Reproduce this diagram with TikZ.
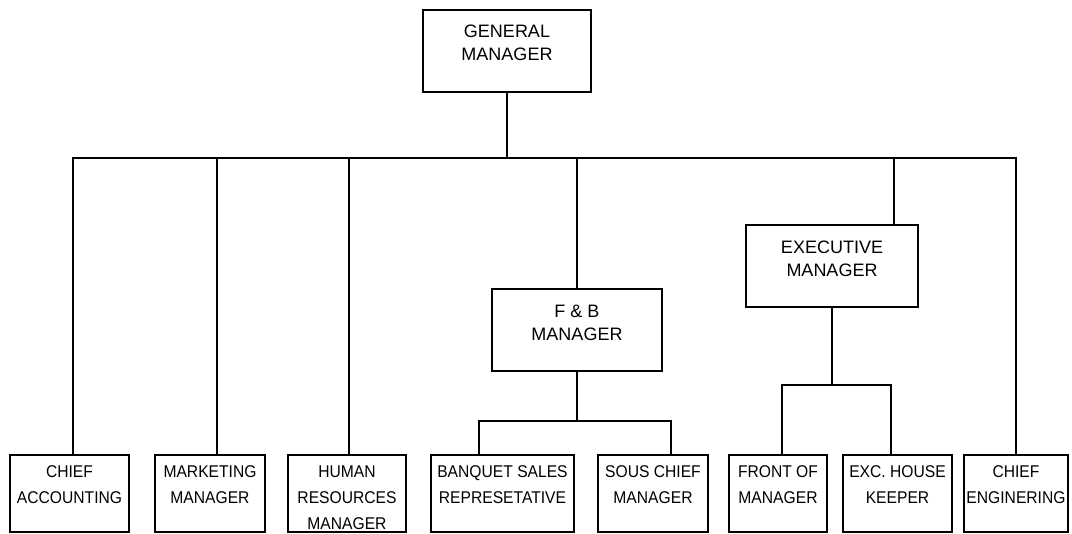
\documentclass[tikz,border=0pt]{standalone}
\usepackage{fontspec}
\setmainfont{Liberation Sans}
\newfontfamily\narrowsans{Liberation Sans}[FakeStretch=0.92]
\newcommand{\topboxtext}[3]{\parbox[c][82pt][t]{#1}{\centering\fontsize{18}{23}\selectfont\rule{0pt}{#2}#3}}
\newcommand{\botboxtext}[2]{\parbox[c][77pt][t]{#1}{\centering\narrowsans\fontsize{17}{26}\selectfont\rule{0pt}{23pt}#2}}
\begin{document}
\begin{tikzpicture}[x=1pt,y=-1pt,
  orgbox/.style={draw=black, line width=1.3pt, inner sep=0pt, outer sep=0pt},
  conn/.style={draw=black, line width=1.3pt}]
\useasboundingbox (0,0) rectangle (1072,534);
% top level
\node[orgbox] (gm) at (507,51) {\topboxtext{168pt}{28pt}{GENERAL\\MANAGER}};
\node[orgbox] (fb) at (577,330) {\topboxtext{170pt}{29pt}{F \& B\\MANAGER}};
\node[orgbox] (ex) at (832,266) {\topboxtext{172pt}{29pt}{EXECUTIVE\\MANAGER}};
% bottom row
\node[orgbox] (ca) at (69.5,493.5) {\botboxtext{119pt}{CHIEF\\ACCOUNTING}};
\node[orgbox] (mk) at (210,493.5) {\botboxtext{110pt}{MARKETING\\MANAGER}};
\node[orgbox] (hr) at (347,493.5) {\botboxtext{118pt}{HUMAN\\RESOURCES\\MANAGER}};
\node[orgbox] (bq) at (502.5,493.5) {\botboxtext{143pt}{BANQUET SALES\\REPRESETATIVE}};
\node[orgbox] (sc) at (653,493.5) {\botboxtext{110pt}{SOUS CHIEF\\MANAGER}};
\node[orgbox] (fo) at (778,493.5) {\botboxtext{98pt}{FRONT OF\\MANAGER}};
\node[orgbox] (eh) at (897.5,493.5) {\botboxtext{109pt}{EXC. HOUSE\\KEEPER}};
\node[orgbox] (ce) at (1016,493.5) {\botboxtext{104pt}{CHIEF\\ENGINERING}};
% bus
\coordinate (busL) at (73,158);
\coordinate (busR) at (1016,158);
\coordinate (bmk) at (217,158);
\coordinate (bhr) at (349,158);
\coordinate (bex) at (894,158);
\draw[conn] (busL |- ca.north) -- (busL) -- (busR) -- (busR |- ce.north);
\draw[conn] (gm.south) -- (gm.south |- busL);
\draw[conn] (bmk) -- (bmk |- mk.north);
\draw[conn] (bhr) -- (bhr |- hr.north);
\draw[conn] (fb.north |- busL) -- (fb.north);
\draw[conn] (bex) -- (bex |- ex.north);
% F&B children
\coordinate (fbj) at (577,421);
\coordinate (fbL) at (479,421);
\coordinate (fbR) at (671,421);
\draw[conn] (fb.south) -- (fbj);
\draw[conn] (fbL |- bq.north) -- (fbL) -- (fbR) -- (fbR |- sc.north);
% Executive children
\coordinate (exj) at (832,385);
\coordinate (exL) at (782,385);
\coordinate (exR) at (891,385);
\draw[conn] (ex.south) -- (exj);
\draw[conn] (exL |- fo.north) -- (exL) -- (exR) -- (exR |- eh.north);
\end{tikzpicture}
\end{document}
